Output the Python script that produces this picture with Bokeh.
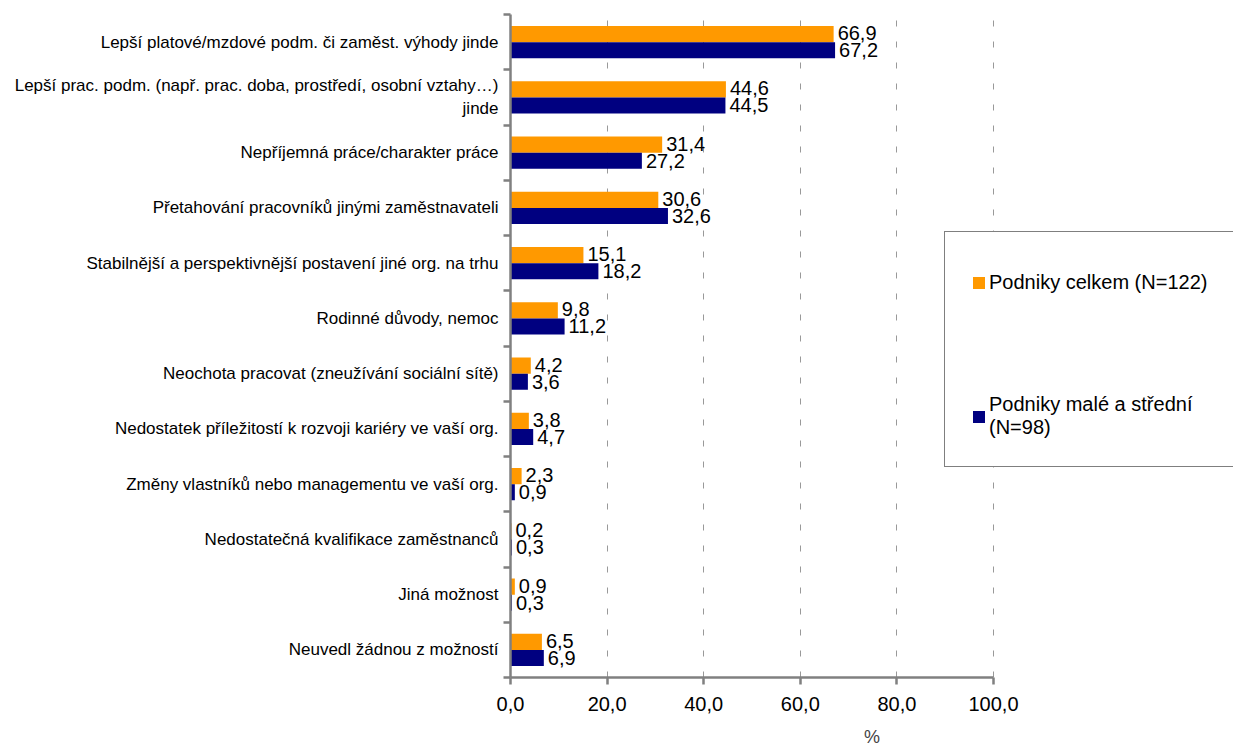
from bokeh.plotting import figure
from bokeh.models import Range1d, FixedTicker, Legend, LegendItem, ColumnDataSource
from bokeh.transform import dodge
from bokeh.embed import file_html
from bokeh.resources import INLINE
from bokeh.core.properties import value

categories = [
    "Lepší platové/mzdové podm. či zaměst. výhody jinde",
    "Lepší prac. podm. (např. prac. doba, prostředí, osobní vztahy…)\njinde",
    "Nepříjemná práce/charakter práce",
    "Přetahování pracovníků jinými zaměstnavateli",
    "Stabilnější a perspektivnější postavení jiné org. na trhu",
    "Rodinné důvody, nemoc",
    "Neochota pracovat (zneužívání sociální sítě)",
    "Nedostatek příležitostí k rozvoji kariéry ve vaší org.",
    "Změny vlastníků nebo managementu ve vaší org.",
    "Nedostatečná kvalifikace zaměstnanců",
    "Jiná možnost",
    "Neuvedl žádnou z možností",
]
celkem = [66.9, 44.6, 31.4, 30.6, 15.1, 9.8, 4.2, 3.8, 2.3, 0.2, 0.9, 6.5]
male_stredni = [67.2, 44.5, 27.2, 32.6, 18.2, 11.2, 3.6, 4.7, 0.9, 0.3, 0.3, 6.9]
series_names = ["Podniky celkem (N=122)", "Podniky malé a střední\n(N=98)"]
x_ticks = [0, 20, 40, 60, 80, 100]

FONT = "Liberation Sans"
GRAY = "#808080"
ORANGE = "#FF9900"
NAVY = "#000080"

def cz(v):
    return f"{v:.1f}".replace(".", ",")

n = len(categories)
pos = [n - 1 - i for i in range(n)]
src = ColumnDataSource(dict(
    pos=pos,
    celkem=celkem,
    male=male_stredni,
    celkem_lbl=[cz(v) for v in celkem],
    male_lbl=[cz(v) for v in male_stredni],
))

W, H = 1233, 751
LEFT, TOP, BOTTOM = 510, 14, 74
px_per_unit = 483 / 100.0
x_end = (W - LEFT) / px_per_unit

p = figure(width=W, height=H, output_backend="svg", toolbar_location=None,
           x_range=Range1d(0, x_end), y_range=Range1d(-0.5, n - 0.5),
           min_border_left=LEFT, min_border_top=TOP, min_border_right=0,
           min_border_bottom=BOTTOM)
p.outline_line_color = None
p.background_fill_color = "white"
p.border_fill_color = "white"

bar_h = 0.29
r1 = p.hbar(y=dodge("pos", bar_h / 2), left=0, right="celkem", height=bar_h,
            source=src, fill_color=ORANGE, line_color=None)
r2 = p.hbar(y=dodge("pos", -bar_h / 2), left=0, right="male", height=bar_h,
            source=src, fill_color=NAVY, line_color=None)

p.text(x="celkem", y=dodge("pos", bar_h / 2), text="celkem_lbl", source=src,
       x_offset=4, y_offset=-1, text_baseline="middle", text_align="left",
       text_font=value(FONT), text_font_size="20px", text_color="black")
p.text(x="male", y=dodge("pos", -bar_h / 2), text="male_lbl", source=src,
       x_offset=4, y_offset=0, text_baseline="middle", text_align="left",
       text_font=value(FONT), text_font_size="20px", text_color="black")

# x axis
xa = p.xaxis[0]
xa.bounds = (0, 100)
xa.ticker = FixedTicker(ticks=x_ticks)
xa.major_label_overrides = {t: cz(t) for t in x_ticks}
xa.axis_line_color = GRAY
xa.axis_line_width = 2.5
xa.major_tick_line_color = GRAY
xa.major_tick_line_width = 2.5
xa.major_tick_out = 7
xa.major_tick_in = 0
xa.minor_tick_line_color = None
xa.major_label_standoff = 12
xa.major_label_text_font = FONT
xa.major_label_text_font_size = "20px"
xa.major_label_text_color = "black"
xa.axis_label = "%"
xa.axis_label_text_font = FONT
xa.axis_label_text_font_size = "18px"
xa.axis_label_text_font_style = "normal"
xa.axis_label_standoff = 13

# y axis
ya = p.yaxis[0]
ya.ticker = FixedTicker(ticks=pos, minor_ticks=[k - 0.5 for k in range(n + 1)])
ya.major_label_overrides = {pos[i]: categories[i] for i in range(n)}
ya.axis_line_color = GRAY
ya.axis_line_width = 2.5
ya.major_tick_line_color = None
ya.major_tick_out = 0
ya.major_tick_in = 0
ya.minor_tick_line_color = GRAY
ya.minor_tick_line_width = 2.5
ya.minor_tick_out = 7
ya.minor_tick_in = 0
ya.major_label_standoff = 5
ya.major_label_text_font = FONT
ya.major_label_text_font_size = "17px"
ya.major_label_text_color = "black"

# grid
p.ygrid.visible = False
p.xgrid.ticker = FixedTicker(ticks=x_ticks[1:])
p.xgrid.grid_line_color = "#999999"
p.xgrid.grid_line_dash = "6 15"
p.xgrid.grid_line_width = 1

legend = Legend(items=[LegendItem(label=series_names[0], renderers=[r1]),
                       LegendItem(label=series_names[1], renderers=[r2])],
                location=(434, 210))
legend.border_line_color = "black"
legend.border_line_width = 1
legend.background_fill_color = "white"
legend.background_fill_alpha = 1
legend.padding = 26
legend.spacing = 86
legend.glyph_width = 15
legend.glyph_height = 15
legend.label_height = 48
legend.label_standoff = 3
legend.label_text_font = FONT
legend.label_text_font_size = "20px"
legend.label_text_color = "black"
legend.margin = 0
p.add_layout(legend)

open("out.html", "w").write(file_html(p, INLINE))
